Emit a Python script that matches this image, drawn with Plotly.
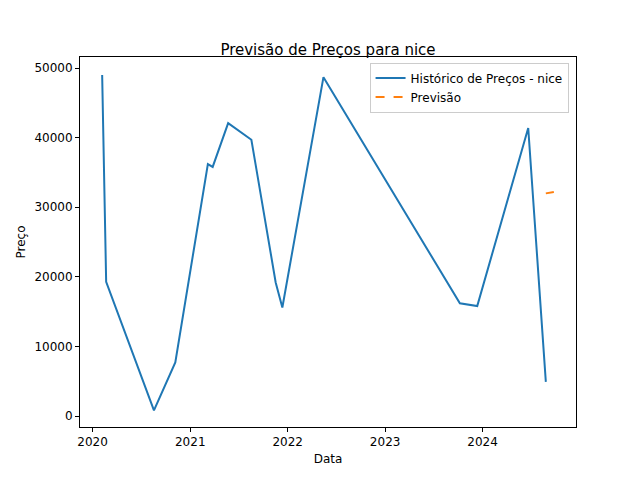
import plotly.graph_objects as go

# historical prices
hist_dates = ["2020-02-06", "2020-02-21", "2020-08-18", "2020-11-06", "2021-03-08",
              "2021-03-26", "2021-05-23", "2021-08-18", "2021-11-17", "2021-12-12",
              "2022-05-15", "2023-10-08", "2023-12-12", "2024-06-20", "2024-08-25"]
hist_prices = [49000, 19300, 800, 7700, 36200, 35800, 42100, 39700, 19200, 15600,
               48700, 16200, 15800, 41400, 4900]

# forecast
fc_dates = ["2024-08-25", "2024-09-24"]
fc_prices = [32000, 32200]

fig = go.Figure()
fig.add_trace(go.Scatter(x=hist_dates, y=hist_prices, mode="lines",
                         name="Histórico de Preços - nice",
                         line=dict(color="#1f77b4", width=2)))
fig.add_trace(go.Scatter(x=fc_dates, y=fc_prices, mode="lines", name="Previsão",
                         line=dict(color="#ff7f0e", width=2, dash="dash")))

axis_style = dict(showgrid=False, zeroline=False, showline=True, mirror=True,
                  linecolor="black", linewidth=1, ticks="outside", ticklen=4,
                  tickcolor="black", tickfont=dict(size=12, color="black"))

fig.update_layout(
    width=640, height=480,
    paper_bgcolor="white", plot_bgcolor="white",
    font=dict(family="DejaVu Sans", size=12, color="black"),
    title=dict(text="Previsão de Preços para nice", x=0.5, xanchor="center",
               y=0.925, font=dict(size=15)),
    margin=dict(l=72, r=72, t=49, b=61),
    xaxis=dict(title=dict(text="Data", standoff=6, font=dict(size=12)),
               range=["2019-11-15", "2024-12-16"],
               tickvals=["2020-01-01", "2021-01-01", "2022-01-01", "2023-01-01", "2024-01-01"],
               ticktext=["2020", "2021", "2022", "2023", "2024"], **axis_style),
    yaxis=dict(title=dict(text="Preço", standoff=6, font=dict(size=12)),
               range=[-1580, 51600],
               tickvals=[0, 10000, 20000, 30000, 40000, 50000],
               tickformat="d", **axis_style),
    legend=dict(x=0.985, y=0.985, xanchor="right", yanchor="top",
                bordercolor="#cccccc", borderwidth=1, bgcolor="white",
                font=dict(size=12)),
)

fig.write_html("out.html")
